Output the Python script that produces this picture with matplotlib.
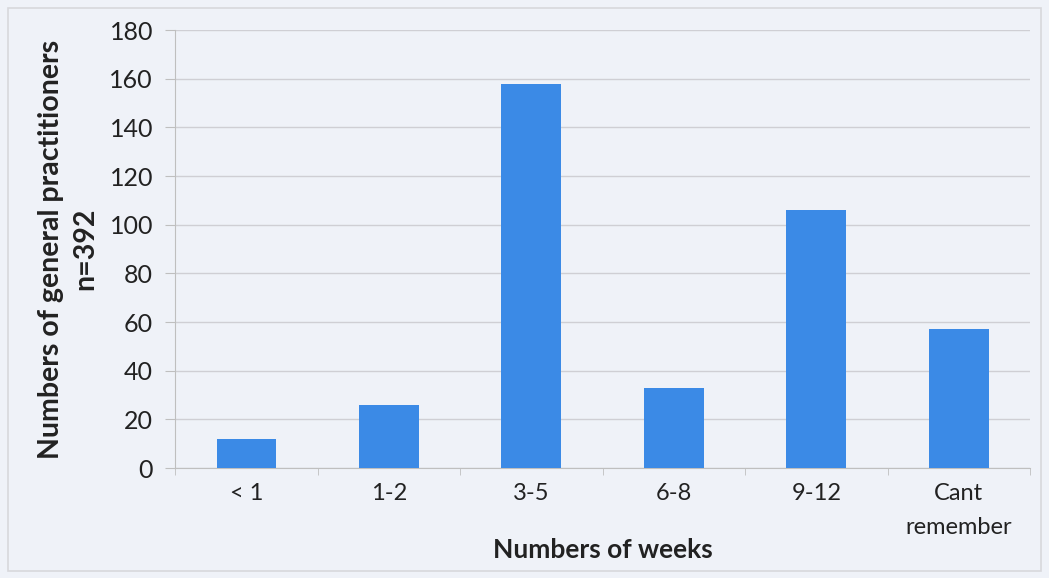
import matplotlib
matplotlib.use("Agg")
import matplotlib.pyplot as plt
from matplotlib.patches import Rectangle

categories = ["< 1", "1-2", "3-5", "6-8", "9-12", "Cant\nremember"]
values = [12, 26, 158, 33, 106, 57]
y_ticks = [0, 20, 40, 60, 80, 100, 120, 140, 160, 180]

plt.rcParams['font.family'] = ['Lato', 'DejaVu Sans']

bg = "#eff2f8"
fig = plt.figure(figsize=(10.49, 5.78), dpi=100, facecolor=bg)
ax = fig.add_axes([0.167, 0.19, 0.815, 0.758])
ax.set_facecolor(bg)

x = list(range(len(categories)))
ax.bar(x, values, width=0.42, color="#3b8ae6", zorder=3)

ax.set_ylim(0, 180)
ax.set_xlim(-0.5, len(categories) - 0.5)
ax.set_yticks(y_ticks)
ax.set_yticklabels([str(v) for v in y_ticks], fontsize=18, color="#222222")
ax.set_xticks(x)
ax.set_xticklabels(categories, fontsize=17, color="#222222", linespacing=1.75)
ax.set_xticks([i + 0.5 for i in range(-1, len(categories))], minor=True)
ax.tick_params(axis='x', which='major', length=0, pad=11)
ax.tick_params(axis='x', which='minor', length=5, color="#bfbfbf")
ax.tick_params(axis='y', which='major', length=7, color="#bfbfbf", pad=9)

ax.grid(axis='y', color="#cfcfd4", linewidth=1, zorder=0)
for s in ["top", "right"]:
    ax.spines[s].set_visible(False)
ax.spines["left"].set_color("#bfbfbf")
ax.spines["bottom"].set_color("#bfbfbf")

ax.set_ylabel("Numbers of general practitioners\nn=392", fontsize=20.5, fontweight="bold",
              color="#222222", labelpad=8, linespacing=1.4)
ax.set_xlabel("Numbers of weeks", fontsize=19, fontweight="bold", color="#222222",
              va="center")
ax.xaxis.set_label_coords(0.5, -0.187)

fig.patches.append(Rectangle((0.008, 0.012), 0.984, 0.975, transform=fig.transFigure,
                             fill=False, edgecolor="#d8d8dc", linewidth=1.2))

fig.savefig("out.png", dpi=100, facecolor=bg)
